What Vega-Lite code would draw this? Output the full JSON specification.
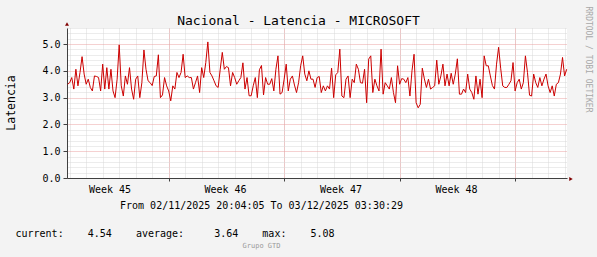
{
  "$schema": "https://vega.github.io/schema/vega-lite/v6.json",
  "width": 500,
  "height": 150,
  "autosize": {"type": "none"},
  "padding": {"left": 67, "top": 28, "right": 30, "bottom": 79},
  "background": "#f3f3f3",
  "config": {
    "font": "DejaVu Sans Mono",
    "view": {"stroke": null, "fill": "#ffffff"},
    "axis": {"labelFont": "DejaVu Sans Mono", "titleFont": "DejaVu Sans Mono", "titleFontWeight": "normal", "labelColor": "#000000", "titleColor": "#000000", "labelFontSize": 10, "titleFontSize": 10}
  },
  "data": {"values": [
    {"t":"2025-11-02T21:00Z","v":3.50},
    {"t":"2025-11-03T00:00Z","v":3.56},{"t":"2025-11-03T03:00Z","v":3.75},{"t":"2025-11-03T06:00Z","v":3.32},{"t":"2025-11-03T09:00Z","v":4.06},{"t":"2025-11-03T12:00Z","v":3.44},{"t":"2025-11-03T15:00Z","v":3.94},{"t":"2025-11-03T18:00Z","v":4.53},{"t":"2025-11-03T21:00Z","v":3.88},
    {"t":"2025-11-04T00:00Z","v":3.50},{"t":"2025-11-04T03:00Z","v":3.69},{"t":"2025-11-04T06:00Z","v":3.38},{"t":"2025-11-04T09:00Z","v":3.25},{"t":"2025-11-04T12:00Z","v":3.81},{"t":"2025-11-04T15:00Z","v":3.79},{"t":"2025-11-04T18:00Z","v":3.75},{"t":"2025-11-04T21:00Z","v":3.25},
    {"t":"2025-11-05T00:00Z","v":4.25},{"t":"2025-11-05T03:00Z","v":3.32},{"t":"2025-11-05T06:00Z","v":4.12},{"t":"2025-11-05T09:00Z","v":3.32},{"t":"2025-11-05T12:00Z","v":4.06},{"t":"2025-11-05T15:00Z","v":3.25},{"t":"2025-11-05T18:00Z","v":3.00},{"t":"2025-11-05T21:00Z","v":3.69},
    {"t":"2025-11-06T00:00Z","v":4.97},{"t":"2025-11-06T03:00Z","v":3.44},{"t":"2025-11-06T06:00Z","v":3.06},{"t":"2025-11-06T09:00Z","v":3.81},{"t":"2025-11-06T12:00Z","v":3.50},{"t":"2025-11-06T15:00Z","v":4.12},{"t":"2025-11-06T18:00Z","v":3.32},{"t":"2025-11-06T21:00Z","v":2.94},
    {"t":"2025-11-07T00:00Z","v":3.69},{"t":"2025-11-07T03:00Z","v":3.81},{"t":"2025-11-07T06:00Z","v":3.00},{"t":"2025-11-07T09:00Z","v":3.56},{"t":"2025-11-07T12:00Z","v":4.78},{"t":"2025-11-07T15:00Z","v":4.06},{"t":"2025-11-07T18:00Z","v":3.63},{"t":"2025-11-07T21:00Z","v":3.56},
    {"t":"2025-11-08T00:00Z","v":3.45},{"t":"2025-11-08T03:00Z","v":3.79},{"t":"2025-11-08T06:00Z","v":3.81},{"t":"2025-11-08T09:00Z","v":4.60},{"t":"2025-11-08T12:00Z","v":3.00},{"t":"2025-11-08T15:00Z","v":3.10},{"t":"2025-11-08T18:00Z","v":3.75},{"t":"2025-11-08T21:00Z","v":3.44},
    {"t":"2025-11-09T00:00Z","v":3.25},{"t":"2025-11-09T03:00Z","v":2.88},{"t":"2025-11-09T06:00Z","v":3.44},{"t":"2025-11-09T09:00Z","v":3.32},{"t":"2025-11-09T12:00Z","v":3.94},{"t":"2025-11-09T15:00Z","v":3.75},{"t":"2025-11-09T18:00Z","v":3.94},{"t":"2025-11-09T21:00Z","v":4.62},
    {"t":"2025-11-10T00:00Z","v":3.75},{"t":"2025-11-10T03:00Z","v":3.81},{"t":"2025-11-10T06:00Z","v":3.75},{"t":"2025-11-10T09:00Z","v":3.75},{"t":"2025-11-10T12:00Z","v":3.32},{"t":"2025-11-10T15:00Z","v":3.56},{"t":"2025-11-10T18:00Z","v":3.81},{"t":"2025-11-10T21:00Z","v":3.19},
    {"t":"2025-11-11T00:00Z","v":4.12},{"t":"2025-11-11T03:00Z","v":3.75},{"t":"2025-11-11T06:00Z","v":4.31},{"t":"2025-11-11T09:00Z","v":5.08},{"t":"2025-11-11T12:00Z","v":3.94},{"t":"2025-11-11T15:00Z","v":3.81},{"t":"2025-11-11T18:00Z","v":3.63},{"t":"2025-11-11T21:00Z","v":3.44},
    {"t":"2025-11-12T00:00Z","v":3.38},{"t":"2025-11-12T03:00Z","v":4.06},{"t":"2025-11-12T06:00Z","v":4.69},{"t":"2025-11-12T09:00Z","v":4.06},{"t":"2025-11-12T12:00Z","v":4.16},{"t":"2025-11-12T15:00Z","v":4.12},{"t":"2025-11-12T18:00Z","v":3.44},{"t":"2025-11-12T21:00Z","v":3.94},
    {"t":"2025-11-13T00:00Z","v":3.75},{"t":"2025-11-13T03:00Z","v":3.50},{"t":"2025-11-13T06:00Z","v":3.63},{"t":"2025-11-13T09:00Z","v":3.75},{"t":"2025-11-13T12:00Z","v":4.30},{"t":"2025-11-13T15:00Z","v":3.32},{"t":"2025-11-13T18:00Z","v":3.75},{"t":"2025-11-13T21:00Z","v":3.07},
    {"t":"2025-11-14T00:00Z","v":3.07},{"t":"2025-11-14T03:00Z","v":3.44},{"t":"2025-11-14T06:00Z","v":3.75},{"t":"2025-11-14T09:00Z","v":3.00},{"t":"2025-11-14T12:00Z","v":4.04},{"t":"2025-11-14T15:00Z","v":4.20},{"t":"2025-11-14T18:00Z","v":3.10},{"t":"2025-11-14T21:00Z","v":3.75},
    {"t":"2025-11-15T00:00Z","v":3.50},{"t":"2025-11-15T03:00Z","v":3.50},{"t":"2025-11-15T06:00Z","v":3.71},{"t":"2025-11-15T09:00Z","v":3.25},{"t":"2025-11-15T12:00Z","v":4.06},{"t":"2025-11-15T15:00Z","v":4.56},{"t":"2025-11-15T18:00Z","v":3.13},{"t":"2025-11-15T21:00Z","v":3.19},
    {"t":"2025-11-16T00:00Z","v":3.69},{"t":"2025-11-16T03:00Z","v":4.25},{"t":"2025-11-16T06:00Z","v":3.25},{"t":"2025-11-16T09:00Z","v":3.69},{"t":"2025-11-16T12:00Z","v":3.81},{"t":"2025-11-16T15:00Z","v":3.47},{"t":"2025-11-16T18:00Z","v":3.19},{"t":"2025-11-16T21:00Z","v":3.56},
    {"t":"2025-11-17T00:00Z","v":4.19},{"t":"2025-11-17T03:00Z","v":4.56},{"t":"2025-11-17T06:00Z","v":3.88},{"t":"2025-11-17T09:00Z","v":3.63},{"t":"2025-11-17T12:00Z","v":4.00},{"t":"2025-11-17T15:00Z","v":3.69},{"t":"2025-11-17T18:00Z","v":3.69},{"t":"2025-11-17T21:00Z","v":3.38},
    {"t":"2025-11-18T00:00Z","v":3.75},{"t":"2025-11-18T03:00Z","v":3.79},{"t":"2025-11-18T06:00Z","v":3.19},{"t":"2025-11-18T09:00Z","v":3.44},{"t":"2025-11-18T12:00Z","v":3.25},{"t":"2025-11-18T15:00Z","v":3.44},{"t":"2025-11-18T18:00Z","v":3.32},{"t":"2025-11-18T21:00Z","v":4.10},
    {"t":"2025-11-19T00:00Z","v":3.00},{"t":"2025-11-19T03:00Z","v":3.85},{"t":"2025-11-19T06:00Z","v":3.94},{"t":"2025-11-19T09:00Z","v":4.81},{"t":"2025-11-19T12:00Z","v":3.06},{"t":"2025-11-19T15:00Z","v":3.00},{"t":"2025-11-19T18:00Z","v":3.69},{"t":"2025-11-19T21:00Z","v":3.81},
    {"t":"2025-11-20T00:00Z","v":3.00},{"t":"2025-11-20T03:00Z","v":3.69},{"t":"2025-11-20T06:00Z","v":3.56},{"t":"2025-11-20T09:00Z","v":4.25},{"t":"2025-11-20T12:00Z","v":4.06},{"t":"2025-11-20T15:00Z","v":3.56},{"t":"2025-11-20T18:00Z","v":3.54},{"t":"2025-11-20T21:00Z","v":4.06},
    {"t":"2025-11-21T00:00Z","v":2.81},{"t":"2025-11-21T03:00Z","v":4.44},{"t":"2025-11-21T06:00Z","v":4.56},{"t":"2025-11-21T09:00Z","v":3.19},{"t":"2025-11-21T12:00Z","v":3.69},{"t":"2025-11-21T15:00Z","v":3.44},{"t":"2025-11-21T18:00Z","v":3.25},{"t":"2025-11-21T21:00Z","v":4.81},
    {"t":"2025-11-22T00:00Z","v":3.13},{"t":"2025-11-22T03:00Z","v":3.56},{"t":"2025-11-22T06:00Z","v":3.44},{"t":"2025-11-22T09:00Z","v":3.32},{"t":"2025-11-22T12:00Z","v":3.75},{"t":"2025-11-22T15:00Z","v":3.19},{"t":"2025-11-22T18:00Z","v":2.81},{"t":"2025-11-22T21:00Z","v":4.19},
    {"t":"2025-11-23T00:00Z","v":3.50},{"t":"2025-11-23T03:00Z","v":3.71},{"t":"2025-11-23T06:00Z","v":3.69},{"t":"2025-11-23T09:00Z","v":3.56},{"t":"2025-11-23T12:00Z","v":3.75},{"t":"2025-11-23T15:00Z","v":3.06},{"t":"2025-11-23T18:00Z","v":4.00},{"t":"2025-11-23T21:00Z","v":4.62},
    {"t":"2025-11-24T00:00Z","v":2.81},{"t":"2025-11-24T03:00Z","v":2.62},{"t":"2025-11-24T06:00Z","v":2.75},{"t":"2025-11-24T09:00Z","v":4.10},{"t":"2025-11-24T12:00Z","v":3.70},{"t":"2025-11-24T15:00Z","v":3.38},{"t":"2025-11-24T18:00Z","v":3.69},{"t":"2025-11-24T21:00Z","v":3.32},
    {"t":"2025-11-25T00:00Z","v":3.38},{"t":"2025-11-25T03:00Z","v":3.44},{"t":"2025-11-25T06:00Z","v":4.40},{"t":"2025-11-25T09:00Z","v":3.50},{"t":"2025-11-25T12:00Z","v":3.81},{"t":"2025-11-25T15:00Z","v":4.25},{"t":"2025-11-25T18:00Z","v":3.44},{"t":"2025-11-25T21:00Z","v":3.88},
    {"t":"2025-11-26T00:00Z","v":3.44},{"t":"2025-11-26T03:00Z","v":3.91},{"t":"2025-11-26T06:00Z","v":3.50},{"t":"2025-11-26T09:00Z","v":3.88},{"t":"2025-11-26T12:00Z","v":4.45},{"t":"2025-11-26T15:00Z","v":3.13},{"t":"2025-11-26T18:00Z","v":3.13},{"t":"2025-11-26T21:00Z","v":3.32},
    {"t":"2025-11-27T00:00Z","v":3.19},{"t":"2025-11-27T03:00Z","v":3.88},{"t":"2025-11-27T06:00Z","v":3.32},{"t":"2025-11-27T09:00Z","v":3.19},{"t":"2025-11-27T12:00Z","v":2.94},{"t":"2025-11-27T15:00Z","v":3.81},{"t":"2025-11-27T18:00Z","v":3.13},{"t":"2025-11-27T21:00Z","v":3.69},
    {"t":"2025-11-28T00:00Z","v":3.00},{"t":"2025-11-28T03:00Z","v":4.56},{"t":"2025-11-28T06:00Z","v":4.19},{"t":"2025-11-28T09:00Z","v":4.19},{"t":"2025-11-28T12:00Z","v":3.81},{"t":"2025-11-28T15:00Z","v":3.45},{"t":"2025-11-28T18:00Z","v":3.32},{"t":"2025-11-28T21:00Z","v":4.25},
    {"t":"2025-11-29T00:00Z","v":4.88},{"t":"2025-11-29T03:00Z","v":4.10},{"t":"2025-11-29T06:00Z","v":3.44},{"t":"2025-11-29T09:00Z","v":3.38},{"t":"2025-11-29T12:00Z","v":3.38},{"t":"2025-11-29T15:00Z","v":3.50},{"t":"2025-11-29T18:00Z","v":3.63},{"t":"2025-11-29T21:00Z","v":4.31},
    {"t":"2025-11-30T00:00Z","v":3.25},{"t":"2025-11-30T03:00Z","v":3.56},{"t":"2025-11-30T06:00Z","v":3.69},{"t":"2025-11-30T09:00Z","v":3.32},{"t":"2025-11-30T12:00Z","v":3.56},{"t":"2025-11-30T15:00Z","v":4.56},{"t":"2025-11-30T18:00Z","v":3.94},{"t":"2025-11-30T21:00Z","v":3.09},
    {"t":"2025-12-01T00:00Z","v":3.06},{"t":"2025-12-01T03:00Z","v":3.88},{"t":"2025-12-01T06:00Z","v":3.56},{"t":"2025-12-01T09:00Z","v":3.38},{"t":"2025-12-01T12:00Z","v":3.75},{"t":"2025-12-01T15:00Z","v":3.44},{"t":"2025-12-01T18:00Z","v":3.69},{"t":"2025-12-01T21:00Z","v":3.88},
    {"t":"2025-12-02T00:00Z","v":3.44},{"t":"2025-12-02T03:00Z","v":3.19},{"t":"2025-12-02T06:00Z","v":3.44},{"t":"2025-12-02T09:00Z","v":3.06},{"t":"2025-12-02T12:00Z","v":3.50},{"t":"2025-12-02T15:00Z","v":3.56},{"t":"2025-12-02T18:00Z","v":3.88},{"t":"2025-12-02T21:00Z","v":4.50},
    {"t":"2025-12-03T00:00Z","v":3.81},{"t":"2025-12-03T03:00Z","v":4.06}
  ]},
  "resolve": {"axis": {"x": "independent", "y": "independent"}},
  "layer": [
    {
      "mark": {"type": "line", "color": "#cc0000", "strokeWidth": 1},
      "encoding": {
        "x": {"field": "t", "type": "temporal",
          "scale": {"type": "utc", "domain": [{"year":2025,"month":11,"date":2,"hours":20,"minutes":4,"seconds":5,"utc":true},{"year":2025,"month":12,"date":3,"hours":3,"minutes":30,"seconds":29,"utc":true}]},
          "axis": {"orient": "bottom", "domain": false, "labels": false, "ticks": false, "tickSize": 0, "grid": true, "gridColor": "#d9d9d9", "gridDash": [1, 1], "gridWidth": 1,
            "tickCount": {"interval": "day", "step": 1},
            "title": "current:\u00a0\u00a0\u00a0\u00a04.54\u00a0\u00a0\u00a0\u00a0average:\u00a0\u00a0\u00a0\u00a0\u00a03.64\u00a0\u00a0\u00a0\u00a0max:\u00a0\u00a0\u00a0\u00a05.08",
            "titleX": -52, "titleY": 58, "titleAlign": "left", "titleBaseline": "alphabetic", "titleFontSize": 10}},
        "y": {"field": "v", "type": "quantitative",
          "scale": {"domain": [0, 5.6], "nice": false, "zero": true},
          "axis": {"orient": "left", "domain": false, "labels": false, "ticks": false, "grid": true, "gridColor": "#d9d9d9", "gridDash": [1, 1], "gridWidth": 1,
            "values": [0.2,0.4,0.6,0.8,1.2,1.4,1.6,1.8,2.2,2.4,2.6,2.8,3.2,3.4,3.6,3.8,4.2,4.4,4.6,4.8,5.2,5.4,5.6],
            "title": "Latencia", "titleFontSize": 11.5, "titleX": -56, "titleY": 74.5, "titleAngle": -90, "titleAlign": "center", "titleBaseline": "middle"}}
      }
    },
    {
      "mark": {"type": "line", "strokeOpacity": 0},
      "encoding": {
        "x": {"field": "t", "type": "temporal",
          "axis": {"orient": "bottom", "domain": true, "domainColor": "#404040", "domainWidth": 1, "labels": false, "ticks": true, "tickSize": 3, "tickColor": "#404040", "grid": true, "gridColor": "#eba3a3", "gridDash": [1, 1], "gridWidth": 1,
            "tickCount": {"interval": "week", "step": 1},
            "title": "Grupo GTD", "titleFontSize": 7, "titleColor": "#9a9a9a", "titleX": 194, "titleY": 69.5, "titleAlign": "center", "titleBaseline": "alphabetic"}},
        "y": {"field": "v", "type": "quantitative",
          "axis": {"orient": "left", "domain": true, "domainColor": "#404040", "domainWidth": 1, "ticks": true, "tickSize": 4, "tickColor": "#404040", "labels": true, "format": ".1f", "labelPadding": 3, "grid": true, "gridColor": "#eba3a3", "gridDash": [1, 1], "gridWidth": 1,
            "values": [0, 1, 2, 3, 4, 5], "title": null}}
      }
    },
    {
      "mark": {"type": "line", "strokeOpacity": 0},
      "encoding": {
        "x": {"field": "t", "type": "temporal",
          "axis": {"orient": "bottom", "domain": false, "ticks": false, "tickSize": 0, "grid": false, "labels": true, "labelPadding": 6, "labelFontSize": 10, "format": "Week %V",
            "values": [{"year":2025,"month":11,"date":5,"hours":10,"utc":true},{"year":2025,"month":11,"date":12,"hours":10,"utc":true},{"year":2025,"month":11,"date":19,"hours":10,"utc":true},{"year":2025,"month":11,"date":26,"hours":10,"utc":true}],
            "title": "From 02/11/2025 20:04:05 To 03/12/2025 03:30:29", "titleFontSize": 10, "titleX": 194, "titleY": 30, "titleAlign": "center", "titleBaseline": "alphabetic"}},
        "y": {"field": "v", "type": "quantitative",
          "axis": {"orient": "right", "domain": false, "ticks": false, "labels": false, "grid": false,
            "title": "RRDTOOL / TOBI OETIKER", "titleFontSize": 8, "titleColor": "#a8a8a8", "titleAngle": 90, "titleX": 20.5, "titleY": 31, "titleAlign": "center", "titleBaseline": "middle"}}
      }
    },
    {
      "mark": {"type": "line", "strokeOpacity": 0},
      "encoding": {
        "x": {"field": "t", "type": "temporal",
          "axis": {"orient": "top", "domain": false, "ticks": false, "labels": false, "grid": false,
            "title": "Nacional - Latencia - MICROSOFT", "titleFontSize": 13, "titleX": 231, "titleY": -4, "titleAlign": "center", "titleBaseline": "alphabetic"}},
        "y": {"field": "v", "type": "quantitative", "axis": null}
      }
    },
    {
      "data": {"values": [{}]},
      "mark": {"type": "point", "shape": "triangle-right", "filled": true, "color": "#800000", "opacity": 1, "size": 16, "xOffset": 4, "yOffset": 1},
      "encoding": {
        "x": {"datum": {"year":2025,"month":12,"date":3,"hours":3,"minutes":30,"seconds":29,"utc":true}, "type": "temporal", "axis": null},
        "y": {"datum": 0, "type": "quantitative", "axis": null}
      }
    },
    {
      "data": {"values": [{}]},
      "mark": {"type": "point", "shape": "triangle-up", "filled": true, "color": "#800000", "opacity": 1, "size": 16, "yOffset": -4},
      "encoding": {
        "x": {"datum": {"year":2025,"month":11,"date":2,"hours":20,"minutes":4,"seconds":5,"utc":true}, "type": "temporal", "axis": null},
        "y": {"datum": 5.6, "type": "quantitative", "axis": null}
      }
    }
  ]
}
